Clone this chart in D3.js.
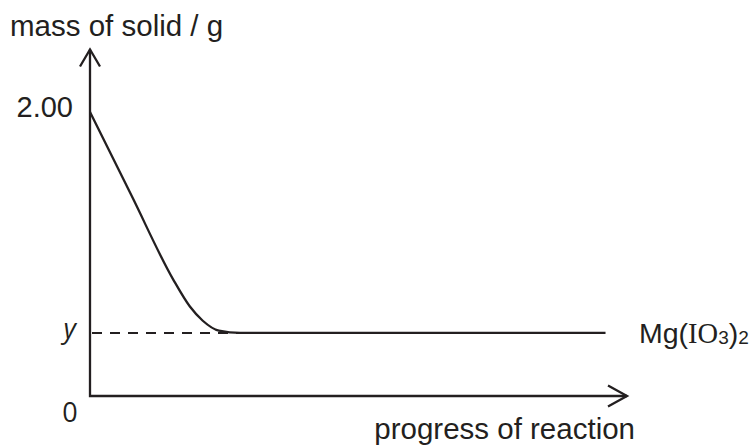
<!DOCTYPE html>
<html>
<head>
<meta charset="utf-8">
<script src="https://cdn.jsdelivr.net/npm/d3@7"></script>
<style>
  html, body { margin: 0; padding: 0; background: #fff; }
  svg { display: block; }
</style>
</head>
<body>
<svg id="chart" width="756" height="447"></svg>
<script>
// Mass of solid against progress of reaction
const progress = [0, 0.78, 1.55, 1.86, 2.1, 2.4, 2.8, 9.6];
const mass     = [2.00, 1.406, 0.82, 0.63, 0.53, 0.46, 0.444, 0.444];
const finalMass = 0.444;          // level marked "y"
const tickLabels = ["2.00", "y", "0"];
const tickValues = [2.00, finalMass, 0];
const axisMax = { progress: 10, mass: 2.44 };

const ink = "#231f20";
const svg = d3.select("#chart");

const x = d3.scaleLinear().domain([0, 10]).range([90, 627]);
const y = d3.scaleLinear().domain([0, 2]).range([396, 112]);

// axes with open arrowheads
const axes = svg.append("g").attr("stroke", ink).attr("stroke-width", 2.3).attr("fill", "none");
axes.append("path")
  .attr("d", `M${x(0)},${y(axisMax.mass)} L${x(0)},${y(0)} L${x(axisMax.progress)},${y(0)}`)
  .attr("stroke-linejoin", "miter");
axes.append("path")
  .attr("d", `M${x(0) - 10},${y(axisMax.mass) + 17} L${x(0)},${y(axisMax.mass)} L${x(0) + 10},${y(axisMax.mass) + 17}`);
axes.append("path")
  .attr("d", `M${x(axisMax.progress) - 19},${y(0) - 10.5} L${x(axisMax.progress)},${y(0)} L${x(axisMax.progress) - 19},${y(0) + 10.5}`);

// dashed guide at the final mass
svg.append("line")
  .attr("x1", x(0) + 2).attr("x2", x(progress[6]))
  .attr("y1", y(finalMass)).attr("y2", y(finalMass))
  .attr("stroke", ink).attr("stroke-width", 2)
  .attr("stroke-dasharray", "10,8");

// curve
const pts = progress.map((p, i) => [p, mass[i]]);
svg.append("path")
  .datum(pts)
  .attr("fill", "none")
  .attr("stroke", ink)
  .attr("stroke-width", 2.3)
  .attr("d", d3.line().x(d => x(d[0])).y(d => y(d[1])).curve(d3.curveMonotoneX));

// text
const sans = "Liberation Sans, Arial, Helvetica, sans-serif";
const txt = svg.append("g").attr("fill", ink);

txt.append("text").attr("x", 10).attr("y", 36)
  .attr("font-family", sans).attr("font-size", 29.5)
  .text("mass of solid / g");

txt.append("text").attr("x", 73).attr("y", y(tickValues[0]) + 5)
  .attr("text-anchor", "end")
  .attr("font-family", sans).attr("font-size", 29)
  .text(tickLabels[0]);

txt.append("text").attr("x", 76).attr("y", y(tickValues[1]) + 5)
  .attr("text-anchor", "end")
  .attr("font-family", "Open Sans, sans-serif").attr("font-style", "italic").attr("font-size", 27)
  .text(tickLabels[1]);

txt.append("text").attr("x", 70).attr("y", y(tickValues[2]) + 26)
  .attr("text-anchor", "middle")
  .attr("font-family", "Open Sans, sans-serif").attr("font-size", 27)
  .text(tickLabels[2]);

txt.append("text").attr("x", 635).attr("y", 439)
  .attr("text-anchor", "end")
  .attr("font-family", sans).attr("font-size", 29.5)
  .text("progress of reaction");

// Mg(IO3)2 label at the end of the plateau
const lab = txt.append("text").attr("x", 639).attr("y", y(finalMass) + 10)
  .attr("font-family", sans).attr("font-size", 28.5);
lab.append("tspan").text("Mg(");
lab.append("tspan").attr("font-family", "Liberation Serif, Times New Roman, serif").text("IO");
lab.append("tspan").attr("font-size", 19).attr("dy", 1).text("3");
lab.append("tspan").attr("dy", -1).text(")");
lab.append("tspan").attr("font-size", 19).attr("dy", 1).text("2");
</script>
</body>
</html>
